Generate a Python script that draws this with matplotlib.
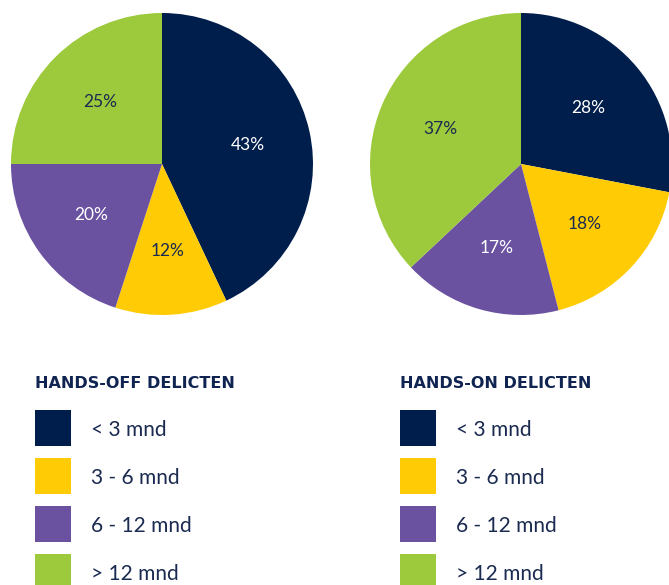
import matplotlib.pyplot as plt
from matplotlib.patches import Rectangle

categories = ["< 3 mnd", "3 - 6 mnd", "6 - 12 mnd", "> 12 mnd"]
hands_off = [43, 12, 20, 25]
hands_on = [28, 18, 17, 37]
titles = ["HANDS-OFF DELICTEN", "HANDS-ON DELICTEN"]

colors = ["#001e4b", "#ffcb05", "#6a52a1", "#9cca3c"]
label_colors = ["white", "#1a2a50", "white", "#1a2a50"]
navy = "#0f2450"

W, H = 669, 585
fig = plt.figure(figsize=(W / 100, H / 100), dpi=100)
fig.patch.set_facecolor("white")


def pie_axes(cx, cy, r):
    return fig.add_axes([(cx - r) / W, (H - cy - r) / H, 2 * r / W, 2 * r / H])


for (cx, cy), values in [((162, 164), hands_off), ((521, 164), hands_on)]:
    ax = pie_axes(cx, cy, 151)
    wedges, texts, autotexts = ax.pie(
        values,
        colors=colors,
        startangle=90,
        counterclock=False,
        autopct=lambda p: f"{p:.0f}%",
        pctdistance=0.58,
        wedgeprops=dict(linewidth=0),
    )
    for t, c in zip(autotexts, label_colors):
        t.set_color(c)
        t.set_fontsize(12.5)
        t.set_family(["Lato", "DejaVu Sans"])
    ax.set_aspect("equal")
    ax.set_xlim(-1, 1)
    ax.set_ylim(-1, 1)

# legends
lax = fig.add_axes([0, 0, 1, 1])
lax.set_xlim(0, W)
lax.set_ylim(H, 0)
lax.axis("off")
for x0, title in zip([35, 400], titles):
    lax.text(x0, 383, title, fontsize=11.5, fontweight="bold", color=navy,
             family=["DejaVu Sans"], va="center", ha="left")
    for i, (cat, col) in enumerate(zip(categories, colors)):
        y = 410 + 48 * i
        lax.add_patch(Rectangle((x0, y), 36, 36, facecolor=col, edgecolor="none"))
        lax.text(x0 + 56, y + 20, cat, fontsize=15, color="#1a2a50",
                 family=["Lato", "DejaVu Sans"], va="center", ha="left")

fig.savefig("out.png", dpi=100)
